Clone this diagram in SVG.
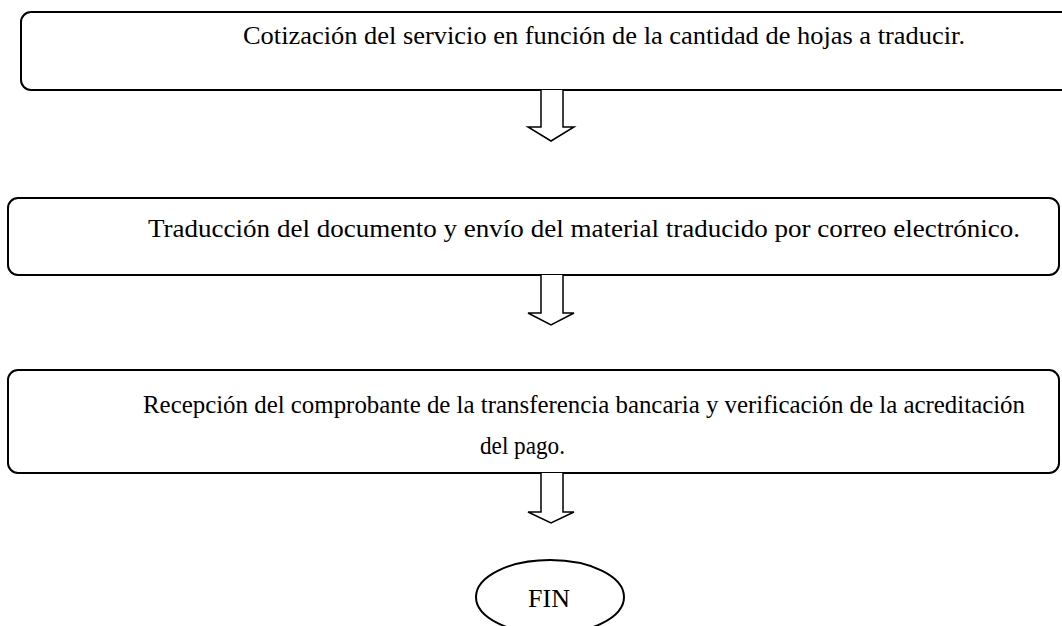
<svg xmlns="http://www.w3.org/2000/svg" width="1062" height="626" viewBox="0 0 1062 626">
<style>
.box{fill:#fff;stroke:#000;stroke-width:2}
.arr{fill:#fff;stroke:#000;stroke-width:1.5;stroke-linejoin:miter}
text{font-family:'Liberation Serif','Times New Roman','DejaVu Serif',serif;font-size:26px;fill:#000}
</style>
<rect width="1062" height="626" fill="#fff"/>
<g id="node1">
<rect class="box" x="21" y="12" width="1060" height="78" rx="10"/>
<text x="243" y="44" textLength="722" lengthAdjust="spacingAndGlyphs">Cotización del servicio en función de la cantidad de hojas a traducir.</text>
</g>
<g id="node2">
<rect class="box" x="8" y="198" width="1051" height="77" rx="10"/>
<text x="148" y="237" textLength="872" lengthAdjust="spacingAndGlyphs">Traducción del documento y envío del material traducido por correo electrónico.</text>
</g>
<g id="node3">
<rect class="box" x="8" y="370" width="1051" height="103" rx="10"/>
<text x="143" y="413" style="font-size:25px" textLength="882" lengthAdjust="spacingAndGlyphs">Recepción del comprobante de la transferencia bancaria y verificación de la acreditación</text>
<text x="480" y="454" textLength="85" lengthAdjust="spacingAndGlyphs">del pago.</text>
</g>
<g id="node4">
<ellipse class="box" cx="550" cy="597" rx="74" ry="37"/>
<text x="549" y="607" text-anchor="middle">FIN</text>
</g>
<g id="connectors">
<path class="arr" d="M541,90 V127 H528 L551,141 L574,127 H563 V90"/>
<path class="arr" d="M541,275 V313 H528 L551,325 L574,313 H563 V275"/>
<path class="arr" d="M541,473 V512 H528 L551,523 L574,512 H563 V473"/>
</g>
</svg>
